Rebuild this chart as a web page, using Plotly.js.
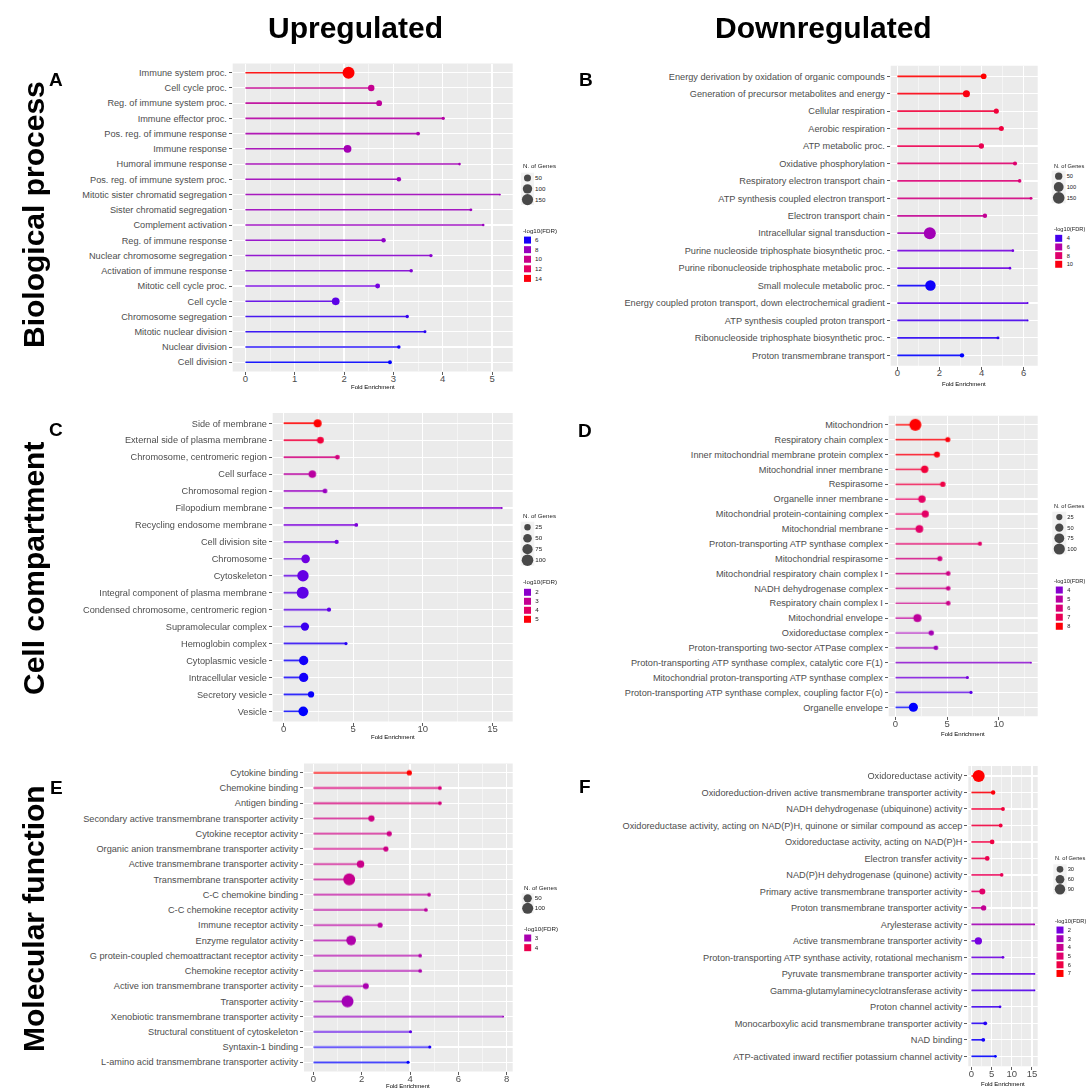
<!DOCTYPE html>
<html><head><meta charset="utf-8">
<script src="https://cdn.plot.ly/plotly-3.0.1.min.js"></script>
<style>html,body{margin:0;padding:0;background:#fff}#chart{width:1087px;height:1090px}</style>
</head><body><div id="chart"></div>
<script>
// ---------- DATA ----------
const termsA = ["Immune system proc.","Cell cycle proc.","Reg. of immune system proc.","Immune effector proc.","Pos. reg. of immune response","Immune response","Humoral immune response","Pos. reg. of immune system proc.","Mitotic sister chromatid segregation","Sister chromatid segregation","Complement activation","Reg. of immune response","Nuclear chromosome segregation","Activation of immune response","Mitotic cell cycle proc.","Cell cycle","Chromosome segregation","Mitotic nuclear division","Nuclear division","Cell division"];
const foldA = [2.09,2.55,2.71,4.01,3.50,2.07,4.34,3.11,5.16,4.57,4.82,2.80,3.76,3.36,2.68,1.83,3.28,3.64,3.11,2.93];
const genesA = [175,41,32,9,12,64,6,17,5,7,6,17,9,10,21,62,9,7,10,12];
const fdrA = [14.3,9.8,9.4,9.0,8.6,8.4,8.35,8.2,8.2,8.1,8.0,7.7,7.5,7.25,6.9,6.65,6.3,6.15,6.0,5.8];
const sizeBreaksA = [50,100,150];
const colorBreaksA = [6,8,10,12,14];

const termsB = ["Energy derivation by oxidation of organic compounds","Generation of precursor metabolites and energy","Cellular respiration","Aerobic respiration","ATP metabolic proc.","Oxidative phosphorylation","Respiratory electron transport chain","ATP synthesis coupled electron transport","Electron transport chain","Intracellular signal transduction","Purine nucleoside triphosphate biosynthetic proc.","Purine ribonucleoside triphosphate metabolic proc.","Small molecule metabolic proc.","Energy coupled proton transport, down electrochemical gradient","ATP synthesis coupled proton transport","Ribonucleoside triphosphate biosynthetic proc.","Proton transmembrane transport"];
const foldB = [4.10,3.28,4.70,4.94,3.99,5.59,5.81,6.35,4.16,1.54,5.49,5.35,1.57,6.19,6.19,4.78,3.07];
const genesB = [26,45,19,19,22,11,8,5,13,160,4,4,116,3,3,5,13];
const fdrB = [10.3,10.0,9.3,9.2,8.9,7.9,7.6,7.2,6.6,5.5,4.4,4.3,3.6,4.2,4.0,3.8,3.5];
const sizeBreaksB = [50,100,150];
const colorBreaksB = [4,6,8,10];

const termsC = ["Side of membrane","External side of plasma membrane","Chromosome, centromeric region","Cell surface","Chromosomal region","Filopodium membrane","Recycling endosome membrane","Cell division site","Chromosome","Cytoskeleton","Integral component of plasma membrane","Condensed chromosome, centromeric region","Supramolecular complex","Hemoglobin complex","Cytoplasmic vesicle","Intracellular vesicle","Secretory vesicle","Vesicle"];
const foldC = [2.44,2.64,3.86,2.06,2.97,15.67,5.22,3.81,1.58,1.39,1.37,3.26,1.53,4.48,1.44,1.44,1.97,1.41];
const genesC = [41,29,12,37,12,3,7,9,50,96,108,9,46,5,60,60,23,65];
const fdrC = [5.1,4.5,3.35,2.75,2.2,2.0,1.8,1.7,1.67,1.63,1.6,1.6,1.45,1.36,1.28,1.28,1.24,1.2];
const sizeBreaksC = [25,50,75,100];
const colorBreaksC = [2,3,4,5];

const termsD = ["Mitochondrion","Respiratory chain complex","Inner mitochondrial membrane protein complex","Mitochondrial inner membrane","Respirasome","Organelle inner membrane","Mitochondrial protein-containing complex","Mitochondrial membrane","Proton-transporting ATP synthase complex","Mitochondrial respirasome","Mitochondrial respiratory chain complex I","NADH dehydrogenase complex","Respiratory chain complex I","Mitochondrial envelope","Oxidoreductase complex","Proton-transporting two-sector ATPase complex","Proton-transporting ATP synthase complex, catalytic core F(1)","Mitochondrial proton-transporting ATP synthase complex","Proton-transporting ATP synthase complex, coupling factor F(o)","Organelle envelope"];
const foldD = [1.92,5.06,4.01,2.82,4.58,2.56,2.88,2.31,8.17,4.29,5.10,5.10,5.10,2.12,3.46,3.91,13.11,6.96,7.31,1.73];
const genesD = [118,15,23,38,17,38,34,42,9,15,12,12,12,47,17,12,3,5,5,63];
const fdrD = [8.1,7.95,7.85,7.35,7.2,6.8,6.7,6.6,6.5,5.8,5.65,5.55,5.55,5.15,4.55,4.4,4.0,3.7,3.5,3.0];
const sizeBreaksD = [25,50,75,100];
const colorBreaksD = [4,5,6,7,8];

const termsE = ["Cytokine binding","Chemokine binding","Antigen binding","Secondary active transmembrane transporter activity","Cytokine receptor activity","Organic anion transmembrane transporter activity","Active transmembrane transporter activity","Transmembrane transporter activity","C-C chemokine binding","C-C chemokine receptor activity","Immune receptor activity","Enzyme regulator activity","G protein-coupled chemoattractant receptor activity","Chemokine receptor activity","Active ion transmembrane transporter activity","Transporter activity","Xenobiotic transmembrane transporter activity","Structural constituent of cytoskeleton","Syntaxin-1 binding","L-amino acid transmembrane transporter activity"];
const foldE = [3.97,5.24,5.24,2.40,3.14,3.00,1.95,1.48,4.79,4.66,2.76,1.56,4.42,4.42,2.17,1.41,7.86,4.02,4.82,3.92];
const genesE = [16,7,7,26,16,16,39,118,7,7,16,74,7,7,22,120,3,5,5,5];
const fdrE = [4.43,3.54,3.51,3.43,3.41,3.41,3.37,3.32,3.19,3.17,3.15,3.05,3.05,3.02,3.0,2.94,2.85,2.51,2.36,2.3];
const sizeBreaksE = [50,100];
const colorBreaksE = [3,4];

const termsF = ["Oxidoreductase activity","Oxidoreduction-driven active transmembrane transporter activity","NADH dehydrogenase (ubiquinone) activity","Oxidoreductase activity, acting on NAD(P)H, quinone or similar compound as accep","Oxidoreductase activity, acting on NAD(P)H","Electron transfer activity","NAD(P)H dehydrogenase (quinone) activity","Primary active transmembrane transporter activity","Proton transmembrane transporter activity","Arylesterase activity","Active transmembrane transporter activity","Proton-transporting ATP synthase activity, rotational mechanism","Pyruvate transmembrane transporter activity","Gamma-glutamylaminecyclotransferase activity","Proton channel activity","Monocarboxylic acid transmembrane transporter activity","NAD binding","ATP-activated inward rectifier potassium channel activity"];
const foldF = [1.79,5.38,7.82,7.25,5.13,3.91,7.50,2.69,3.02,15.57,1.71,7.82,15.65,15.65,7.09,3.42,2.93,5.95];
const genesF = [125,10,7,7,12,12,6,23,17,2,38,3,2,2,3,7,7,3];
const fdrF = [7.0,6.83,6.14,6.08,6.02,5.85,5.74,5.16,3.84,2.98,2.0,1.94,1.88,1.77,1.65,1.48,1.37,1.25];
const sizeBreaksF = [30,60,90];
const colorBreaksF = [2,3,4,5,6,7];

// ---------- STYLE / LAYOUT ----------
const FONT = 'Liberation Sans, Arial, Helvetica, sans-serif';
const W = 1087, H = 1090;
const CS = [[0,'#0000FF'],[0.125,'#7300E0'],[0.25,'#9700C0'],[0.375,'#B500A5'],[0.5,'#CA0089'],[0.625,'#DD006F'],[0.75,'#E50062'],[0.875,'#F40031'],[1,'#FF0000']];
const DMIN = 1.8, DMAX = 12;
const px = v => v / W, py = v => 1 - v / H;
const an = k => (k === 1 ? '' : String(k));

const panels = [
  {letter:'A', terms:termsA, fold:foldA, genes:genesA, fdr:fdrA, sb:sizeBreaksA, cb:colorBreaksA, dtick:1,
   plot:[232.7,512.7,63.5,371.4], let:[56,79], sizeBox:[521,534,172.7,205], colBox:[521,534,235.3,283.2], st:165.7, ct:230.3, xt:386.7, lf:6.2},
  {letter:'B', terms:termsB, fold:foldB, genes:genesB, fdr:fdrB, sb:sizeBreaksB, cb:colorBreaksB, dtick:2,
   plot:[890.7,1037.7,65.8,365.8], let:[586,79], sizeBox:[1051.7,1065.7,170.7,203.3], colBox:[1051.7,1065.7,234,268.6], st:165.7, ct:229, xt:384, lf:5.7},
  {letter:'C', terms:termsC, fold:foldC, genes:genesC, fdr:fdrC, sb:sizeBreaksC, cb:colorBreaksC, dtick:5,
   plot:[272.7,512.7,413.1,721.5], let:[56,429], sizeBox:[520.7,534.3,521.7,565.7], colBox:[520.7,534.3,587.8,623.8], st:515.7, ct:581.7, xt:736.7, lf:6.2},
  {letter:'D', terms:termsD, fold:foldD, genes:genesD, fdr:fdrD, sb:sizeBreaksD, cb:colorBreaksD, dtick:5,
   plot:[888.7,1037.7,415.8,716.2], let:[585,430], sizeBox:[1052.3,1066.3,511.7,554.3], colBox:[1052.3,1066.3,585.5,630.8], st:505.7, ct:580.7, xt:734.3, lf:5.7},
  {letter:'E', terms:termsE, fold:foldE, genes:genesE, fdr:fdrE, sb:sizeBreaksE, cb:colorBreaksE, dtick:2,
   plot:[304,512.7,763.6,1071.4], let:[56,787], sizeBox:[521.7,533.7,893.3,913.3], colBox:[521.7,533.7,933.2,952.5], st:887, ct:928, xt:1086.2, lf:6.2},
  {letter:'F', terms:termsF, fold:foldF, genes:genesF, fdr:fdrF, sb:sizeBreaksF, cb:colorBreaksF, dtick:5,
   plot:[968.3,1037.7,766.1,1066.2], let:[585,786], sizeBox:[1053.3,1066.7,864.3,894.3], colBox:[1053.3,1066.7,925.7,977.8], st:857.7, ct:921, xt:1084.3, lf:5.7}
];

const traces = [], shapes = [], annotations = [];
const layout = {width:W, height:H, margin:{l:0,r:0,t:0,b:0}, paper_bgcolor:'#FFFFFF', plot_bgcolor:'rgba(0,0,0,0)',
  showlegend:false, font:{family:FONT}, hovermode:false};

panels.forEach((p, i) => {
  const k = i + 1, ks = k + 6, kc = k + 12;
  const n = p.terms.length;
  const cmin = Math.min(...p.fdr), cmax = Math.max(...p.fdr);
  const nmin = Math.min(...p.genes), nmax = Math.max(...p.genes);
  const sf = v => DMIN + (DMAX - DMIN) * Math.sqrt(Math.max(0, (v - nmin) / (nmax - nmin)));
  const fmax = Math.max(...p.fold);
  const xa = 'x' + an(k), ya = 'y' + an(k);

  traces.push({type:'bar', orientation:'h', x:p.fold, y:p.terms, width:0.1, xaxis:xa, yaxis:ya,
    marker:{color:p.fdr, colorscale:CS, cmin:cmin, cmax:cmax, line:{width:0}}, opacity:0.9, hoverinfo:'skip'});
  traces.push({type:'scatter', mode:'markers', x:p.fold, y:p.terms, xaxis:xa, yaxis:ya, cliponaxis:false,
    marker:{size:p.genes.map(sf), color:p.fdr, colorscale:CS, cmin:cmin, cmax:cmax, line:{width:0}, opacity:1}});

  // legend keys
  traces.push({type:'scatter', mode:'markers', x:p.sb.map(() => 0.5), y:p.sb.map(String),
    xaxis:'x'+ks, yaxis:'y'+ks, cliponaxis:false, marker:{size:p.sb.map(sf), color:'#000000', line:{width:0}}});
  traces.push({type:'scatter', mode:'markers', x:p.cb.map(() => 0.5), y:p.cb.map(String),
    xaxis:'x'+kc, yaxis:'y'+kc, cliponaxis:false,
    marker:{symbol:'square', size:7, color:p.cb, colorscale:CS, cmin:cmin, cmax:cmax, line:{width:0}}});

  layout['xaxis'+an(k)] = {domain:[px(p.plot[0]), px(p.plot[1])], anchor:ya, range:[-0.05*fmax, 1.05*fmax],
    tick0:0, dtick:p.dtick, showgrid:true, gridcolor:'#FFFFFF', gridwidth:1.2,
    minor:{tick0:0, dtick:p.dtick/2, showgrid:true, gridcolor:'#FFFFFF', gridwidth:0.5},
    zeroline:false, showline:false, ticks:'outside', ticklen:3, tickwidth:0.8, tickcolor:'#333333',
    ticklabelstandoff:-5,
    tickfont:{family:FONT, size:9.5, color:'#4D4D4D'}, fixedrange:true};
  layout['yaxis'+an(k)] = {domain:[py(p.plot[3]), py(p.plot[2])], anchor:xa, type:'category',
    categoryorder:'array', categoryarray:p.terms.slice().reverse(), range:[-0.6, n - 0.4],
    showgrid:true, gridcolor:'#FFFFFF', gridwidth:1.2, zeroline:false, showline:false,
    ticks:'outside', ticklen:3, tickwidth:0.8, tickcolor:'#333333',
    tickfont:{family:FONT, size:9.2, color:'#4D4D4D'}, fixedrange:true};

  layout['xaxis'+ks] = {domain:[px(p.sizeBox[0]), px(p.sizeBox[1])], anchor:'y'+ks, range:[0,1], visible:false, fixedrange:true};
  layout['yaxis'+ks] = {domain:[py(p.sizeBox[3]), py(p.sizeBox[2])], anchor:'x'+ks, type:'category',
    categoryorder:'array', categoryarray:p.sb.map(String).reverse(), range:[-0.5, p.sb.length - 0.5],
    side:'right', showgrid:false, zeroline:false, showline:false, ticks:'',
    tickfont:{family:FONT, size:p.lf, color:'#1A1A1A'}, fixedrange:true};
  layout['xaxis'+kc] = {domain:[px(p.colBox[0]), px(p.colBox[1])], anchor:'y'+kc, range:[0,1], visible:false, fixedrange:true};
  layout['yaxis'+kc] = {domain:[py(p.colBox[3]), py(p.colBox[2])], anchor:'x'+kc, type:'category',
    categoryorder:'array', categoryarray:p.cb.map(String).reverse(), range:[-0.5, p.cb.length - 0.5],
    side:'right', showgrid:false, zeroline:false, showline:false, ticks:'',
    tickfont:{family:FONT, size:p.lf, color:'#1A1A1A'}, fixedrange:true};

  shapes.push({type:'rect', xref:xa+' domain', yref:ya+' domain', x0:0, x1:1, y0:0, y1:1,
    fillcolor:'#EBEBEB', line:{width:0}, layer:'below'});
  shapes.push({type:'rect', xref:'x'+ks+' domain', yref:'y'+ks+' domain', x0:0, x1:1, y0:0, y1:1,
    fillcolor:'#F2F2F2', line:{width:0}, layer:'below'});

  annotations.push({text:'<b>'+p.letter+'</b>', xref:'paper', yref:'paper', x:px(p.let[0]), y:py(p.let[1]),
    xanchor:'center', yanchor:'middle', showarrow:false, font:{family:FONT, size:19, color:'#000'}});
  annotations.push({text:'Fold Enrichment', xref:'paper', yref:'paper', x:px((p.plot[0]+p.plot[1])/2), y:py(p.xt),
    xanchor:'center', yanchor:'middle', showarrow:false, font:{family:FONT, size:6, color:'#000'}});
  annotations.push({text:'N. of Genes', xref:'paper', yref:'paper', x:px(p.sizeBox[0]), y:py(p.st),
    xanchor:'left', yanchor:'middle', showarrow:false, font:{family:FONT, size:p.lf, color:'#1A1A1A'}});
  annotations.push({text:'-log10(FDR)', xref:'paper', yref:'paper', x:px(p.colBox[0]), y:py(p.ct),
    xanchor:'left', yanchor:'middle', showarrow:false, font:{family:FONT, size:p.lf, color:'#1A1A1A'}});
});

const big = {family:FONT, size:30, color:'#000'};
annotations.push({text:'<b>Upregulated</b>', xref:'paper', yref:'paper', x:px(355), y:py(27), xanchor:'center', yanchor:'middle', showarrow:false, font:big});
annotations.push({text:'<b>Downregulated</b>', xref:'paper', yref:'paper', x:px(823), y:py(27), xanchor:'center', yanchor:'middle', showarrow:false, font:big});
annotations.push({text:'<b>Biological process</b>', xref:'paper', yref:'paper', x:px(33), y:py(215), xanchor:'center', yanchor:'middle', textangle:-90, showarrow:false, font:big});
annotations.push({text:'<b>Cell compartment</b>', xref:'paper', yref:'paper', x:px(33), y:py(569), xanchor:'center', yanchor:'middle', textangle:-90, showarrow:false, font:big});
annotations.push({text:'<b>Molecular function</b>', xref:'paper', yref:'paper', x:px(33), y:py(919), xanchor:'center', yanchor:'middle', textangle:-90, showarrow:false, font:big});

layout.shapes = shapes;
layout.annotations = annotations;
Plotly.newPlot('chart', traces, layout, {displayModeBar:false, staticPlot:true});
</script>
</body></html>
